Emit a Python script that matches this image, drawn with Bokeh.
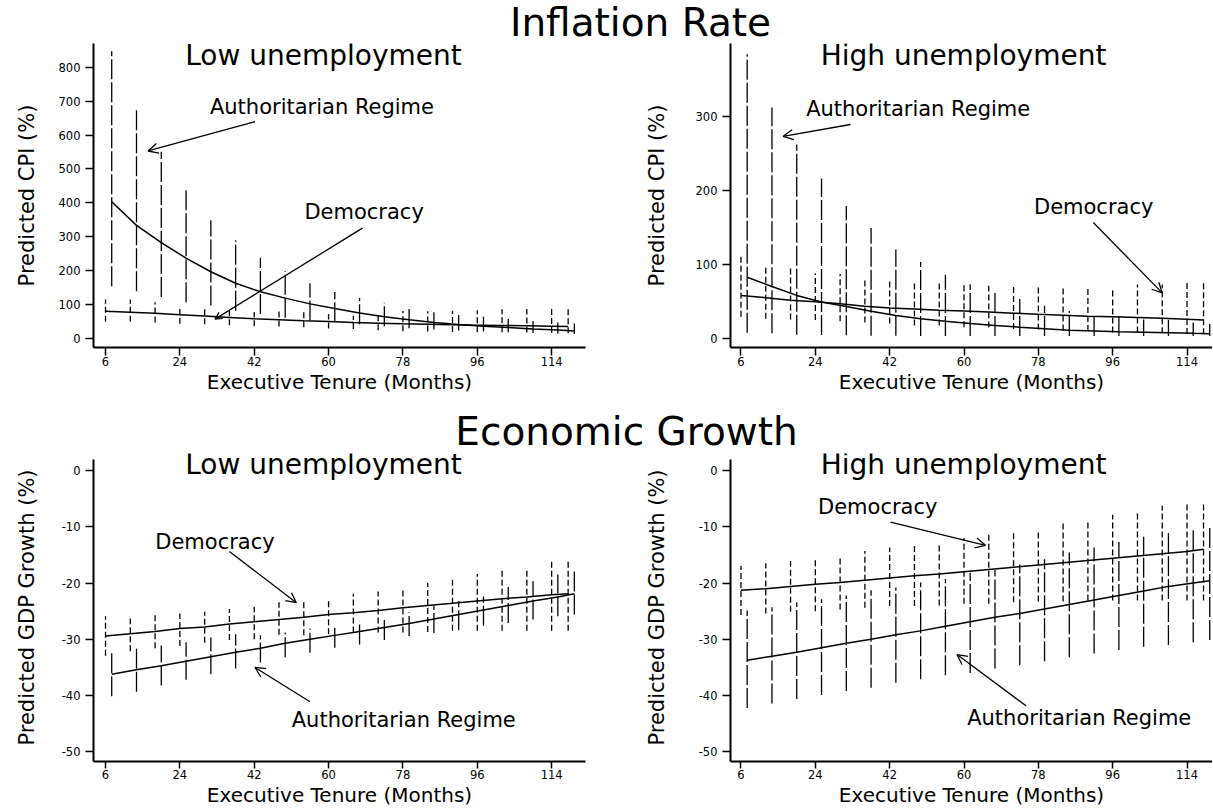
import math
from bokeh.plotting import figure
from bokeh.layouts import column, row
from bokeh.models import Label, Arrow, OpenHead, FixedTicker, Range1d
from bokeh.embed import file_html
from bokeh.resources import INLINE

FONT = "DejaVu Sans"

# ---------------- data ----------------
tenure_dem = [6, 12, 18, 24, 30, 36, 42, 48, 54, 60, 66, 72, 78, 84, 90, 96, 102, 108, 114, 118]
tenure_auth = [7.5, 13.5, 19.5, 25.5, 31.5, 37.5, 43.5, 49.5, 55.5, 61.5, 67.5, 73.5,
               79.5, 85.5, 91.5, 97.5, 103.5, 109.5, 115.5, 119.5]

x_ticks = [6, 24, 42, 60, 78, 96, 114]
cpi_low_ticks = [0, 100, 200, 300, 400, 500, 600, 700, 800]
cpi_high_ticks = [0, 100, 200, 300]
gdp_ticks = [0, -10, -20, -30, -40, -50]
gdp_tick_labels = ["0", "-10", "-20", "-30", "-40", "-50"]

# Inflation, low unemployment
cpi_low_dem_mean = [79, 76, 73, 69, 65, 61, 57, 54, 51, 49, 46, 44, 42, 41, 39, 38, 37, 36, 35, 34]
cpi_low_dem_lo = [48, 48, 46, 42, 41, 38, 35, 34, 32, 28, 27, 23, 20, 19, 18, 17, 17, 16, 15, 14]
cpi_low_dem_hi = [114, 114, 106, 86, 86, 80, 77, 79, 76, 71, 66, 65, 80, 79, 81, 82, 85, 86, 87, 87]
cpi_low_auth_mean = [403, 333, 282, 236, 196, 162, 137, 118, 101, 87, 74, 63, 54, 46, 40, 35, 31, 27, 24, 21]
cpi_low_auth_lo = [153, 138, 121, 106, 96, 81, 71, 60, 52, 47, 41, 35, 29, 25, 22, 19, 17, 15, 13, 12]
cpi_low_auth_hi = [848, 678, 551, 442, 348, 289, 237, 198, 162, 136, 118, 104, 86, 76, 68, 63, 56, 50, 46, 43]

# Inflation, high unemployment
cpi_high_dem_mean = [57.8, 55, 51.6, 49.3, 46.6, 43.5, 41, 39.5, 38, 36.8, 35.5, 34, 32.5, 31.2,
                     30, 29, 28, 27, 25.8, 24.7]
cpi_high_dem_lo = [29, 26.5, 25.6, 24.7, 23, 21.5, 20, 17.5, 17.5, 15, 14.5, 12.5, 12, 10.5,
                   10, 8, 8, 7, 6, 5.5]
cpi_high_dem_hi = [110.8, 96.4, 95, 88, 87, 78, 77, 75, 74.6, 73.5, 71, 70, 69.5, 68,
                   67, 66, 72.6, 72.6, 75, 75]
cpi_high_auth_mean = [82.5, 70, 58, 49, 43, 36.5, 31, 26.5, 23, 20, 17.5, 15, 13, 11,
                      10, 9, 8.3, 7.6, 6.8, 6.3]
cpi_high_auth_lo = [7.6, 6.7, 5, 4.5, 4, 3.5, 3.5, 3.2, 3, 3, 3, 3, 3, 3, 3, 3, 3, 3, 3, 3]
cpi_high_auth_hi = [384, 312, 262, 216, 179, 149, 120, 103, 86, 73, 62, 53, 44, 37,
                    33.6, 30, 25.6, 25, 21.5, 19.3]

# Growth, low unemployment
gdp_low_dem_mean = [-29.4, -29.0, -28.6, -28.1, -27.8, -27.3, -26.9, -26.5, -26.1, -25.6,
                    -25.3, -24.9, -24.4, -24.0, -23.6, -23.2, -22.8, -22.5, -22.1, -21.9]
gdp_low_dem_lo = [-32.9, -32.1, -31.6, -31.2, -30.6, -30.1, -30.0, -29.2, -29.3, -29.1,
                  -28.8, -28.8, -28.8, -28.7, -28.5, -28.5, -28.5, -28.5, -28.5, -28.5]
gdp_low_dem_hi = [-25.9, -26.3, -25.6, -25.4, -25.1, -24.6, -24.2, -23.4, -23.2, -23.2,
                  -21.9, -21.5, -21.2, -20.0, -19.4, -18.4, -17.8, -17.8, -16.2, -16.2]
gdp_low_auth_mean = [-36.2, -35.4, -34.7, -33.9, -33.1, -32.3, -31.6, -30.7, -30.0, -29.3,
                     -28.6, -27.9, -27.2, -26.4, -25.6, -24.8, -24.0, -23.2, -22.5, -21.9]
gdp_low_auth_lo = [-40.1, -39.3, -38.2, -37.2, -36.2, -35.2, -34.1, -33.2, -32.4, -31.5,
                   -30.9, -30.1, -29.4, -28.9, -28.4, -27.6, -27.1, -26.5, -25.9, -25.6]
gdp_low_auth_hi = [-32.2, -31.6, -31.1, -30.5, -29.7, -29.1, -29.3, -28.8, -28.1, -27.4,
                   -26.8, -26.1, -25.2, -24.1, -23.2, -22.4, -20.7, -19.7, -18.5, -17.9]

# Growth, high unemployment
gdp_high_dem_mean = [-21.3, -21.0, -20.6, -20.2, -19.9, -19.5, -19.1, -18.7, -18.4, -18.0,
                     -17.6, -17.2, -16.8, -16.4, -16.0, -15.6, -15.2, -14.8, -14.4, -14.0]
gdp_high_dem_lo = [-25.7, -25.4, -25.1, -25.0, -24.7, -24.4, -24.1, -24.1, -24.0, -23.7,
                   -23.7, -23.4, -23.3, -23.3, -23.1, -23.1, -23.1, -23.1, -23.1, -23.1]
gdp_high_dem_hi = [-17.0, -16.5, -16.1, -15.8, -15.5, -14.3, -13.7, -13.2, -13.2, -12.0,
                   -11.1, -11.1, -10.8, -9.2, -9.1, -7.9, -7.3, -6.3, -5.8, -5.8]
gdp_high_auth_mean = [-33.7, -33.0, -32.3, -31.5, -30.7, -30.0, -29.2, -28.5, -27.7, -26.9,
                      -26.1, -25.4, -24.6, -23.8, -23.0, -22.2, -21.4, -20.6, -20.0, -19.6]
gdp_high_auth_lo = [-42.2, -41.4, -40.6, -39.9, -39.2, -38.6, -37.7, -37.1, -36.4, -36.0,
                    -35.2, -34.6, -33.9, -33.2, -32.5, -31.9, -31.3, -31.0, -30.5, -30.1]
gdp_high_auth_hi = [-24.9, -24.3, -23.4, -22.9, -22.2, -21.3, -20.8, -19.9, -19.3, -18.2,
                    -17.7, -16.7, -15.8, -14.6, -13.7, -12.7, -11.8, -10.8, -10.2, -9.9]


# ---------------- helpers ----------------
def style_axis(ax, tick_out, standoff):
    ax.axis_line_width = 2
    ax.axis_line_color = "black"
    ax.major_tick_line_width = 1.5
    ax.major_tick_line_color = "black"
    ax.major_tick_in = 0
    ax.major_tick_out = tick_out
    ax.minor_tick_line_color = None
    ax.major_label_text_font = FONT
    ax.major_label_text_font_size = "11.5px"
    ax.major_label_text_color = "black"
    ax.major_label_standoff = standoff
    ax.axis_label_text_font = FONT
    ax.axis_label_text_font_style = "normal"
    ax.axis_label_text_color = "black"


def panel(width, height, bt, bl, br, bb, xr, yr, ybounds, yticks, ylabels, ytitle,
          ytitle_standoff, x_tick_out, xtitle_standoff, subtitle, sub_x, sub_y, series, notes):
    p = figure(width=width, height=height, x_range=Range1d(*xr), y_range=Range1d(*yr),
               output_backend="svg", toolbar_location=None,
               min_border_left=bl, min_border_right=br, min_border_top=bt,
               min_border_bottom=bb)
    p.outline_line_color = None
    p.grid.visible = False
    xa = p.xaxis[0]
    ya = p.yaxis[0]
    xa.ticker = FixedTicker(ticks=x_ticks)
    xa.major_label_overrides = {t: str(t) for t in x_ticks}
    ya.ticker = FixedTicker(ticks=yticks)
    ya.major_label_overrides = dict(zip(yticks, ylabels))
    if ybounds is not None:
        ya.bounds = ybounds
    style_axis(xa, x_tick_out, 1)
    style_axis(ya, 8, 5)
    xa.axis_label = "Executive Tenure (Months)"
    xa.axis_label_text_font_size = "20px"
    xa.axis_label_standoff = xtitle_standoff
    ya.axis_label = ytitle
    ya.axis_label_text_font_size = "21px"
    ya.axis_label_standoff = ytitle_standoff

    dx, dm, dlo, dhi, ax_, am, alo, ahi = series
    p.segment(x0=dx, y0=dlo, x1=dx, y1=dhi, line_color="black", line_width=1.3, line_dash="6 3")
    p.segment(x0=ax_, y0=alo, x1=ax_, y1=ahi, line_color="black", line_width=1.3, line_dash="20 3")
    p.line(dx, dm, line_color="black", line_width=1.5)
    p.line(ax_, am, line_color="black", line_width=1.5)

    p.add_layout(Label(x=sub_x, y=sub_y, x_units="screen", y_units="screen",
                       text=subtitle, text_align="center", text_baseline="middle",
                       text_font=FONT, text_font_size="28px", text_color="black"))
    for (txt, tx, ty, x0, y0, x1, y1, hs) in notes:
        p.add_layout(Label(x=tx, y=ty, text=txt, text_align="center", text_baseline="middle",
                           text_font=FONT, text_font_size="21px", text_color="black"))
        p.add_layout(Arrow(end=OpenHead(size=hs, line_width=1.3, line_color="black"),
                           x_start=x0, y_start=y0, x_end=x1, y_end=y1,
                           line_width=1.3, line_color="black"))
    return p


def title_fig(width, height, text, x, y):
    t = figure(width=width, height=height, x_range=Range1d(0, 1), y_range=Range1d(0, 1),
               output_backend="svg", toolbar_location=None, x_axis_type=None, y_axis_type=None,
               min_border=0)
    t.outline_line_color = None
    t.grid.visible = False
    t.add_layout(Label(x=x, y=y, x_units="screen", y_units="screen", text=text,
                       text_align="center", text_baseline="middle", text_font=FONT,
                       text_font_size="39px", text_color="black"))
    return t


TL_XR = (3.09, 122.2)
TR_XR = (3.46, 120.17)

tl = panel(606, 360, 6, 93, 21, 50, TL_XR, (-28.0, 870.8), None, cpi_low_ticks,
           [str(v) for v in cpi_low_ticks], "Predicted CPI (%)", 17, 8, 1,
           "Low unemployment", 230, 292,
           (tenure_dem, cpi_low_dem_mean, cpi_low_dem_lo, cpi_low_dem_hi,
            tenure_auth, cpi_low_auth_mean, cpi_low_auth_lo, cpi_low_auth_hi),
           [("Authoritarian Regime", 58.4, 684, 42.2, 640, 16.3, 553, 10),
            ("Democracy", 68.6, 373, 68.2, 325, 32.5, 56, 7)])

tr = panel(606, 360, 6, 124, 0, 50, TR_XR, (-12.4, 398.5), None, cpi_high_ticks,
           [str(v) for v in cpi_high_ticks], "Predicted CPI (%)", 24, 8, 1,
           "High unemployment", 233, 292,
           (tenure_dem, cpi_high_dem_mean, cpi_high_dem_lo, cpi_high_dem_hi,
            tenure_auth, cpi_high_auth_mean, cpi_high_auth_lo, cpi_high_auth_hi),
           [("Authoritarian Regime", 48.9, 310, 32.5, 289, 16.2, 273, 10),
            ("Democracy", 91.4, 177, 91.3, 156.5, 108.0, 61.4, 10)])

GDP_YR = (-51.7, 3.0)
GDP_BOUNDS = (-51.7, 1.9)

bl = panel(606, 363, 7, 93, 21, 46, TL_XR, GDP_YR, GDP_BOUNDS, gdp_ticks, gdp_tick_labels,
           "Predicted GDP Growth (%)", 20, 7, 1,
           "Low unemployment", 230, 297,
           (tenure_dem, gdp_low_dem_mean, gdp_low_dem_lo, gdp_low_dem_hi,
            tenure_auth, gdp_low_auth_mean, gdp_low_auth_lo, gdp_low_auth_hi),
           [("Democracy", 32.5, -12.8, 36.0, -14.4, 52.2, -23.5, 10),
            ("Authoritarian Regime", 78.2, -44.3, 55.5, -41.1, 42.2, -35.0, 10)])

br = panel(606, 363, 7, 124, 0, 46, TR_XR, GDP_YR, GDP_BOUNDS, gdp_ticks, gdp_tick_labels,
           "Predicted GDP Growth (%)", 27, 7, 1,
           "High unemployment", 233, 297,
           (tenure_dem, gdp_high_dem_mean, gdp_high_dem_lo, gdp_high_dem_hi,
            tenure_auth, gdp_high_auth_mean, gdp_high_auth_lo, gdp_high_auth_hi),
           [("Democracy", 39.1, -6.5, 42.2, -9.2, 65.2, -13.3, 10),
            ("Authoritarian Regime", 87.9, -44.0, 75.0, -41.8, 58.3, -32.7, 10)])

t1 = title_fig(1212, 37, "Inflation Rate", 640, 15.5)
t2 = title_fig(1212, 49, "Economic Growth", 626, 15)

layout = column(t1, row(tl, tr, spacing=0), t2, row(bl, br, spacing=0), spacing=0)

open("out.html", "w").write(file_html(layout, INLINE))
